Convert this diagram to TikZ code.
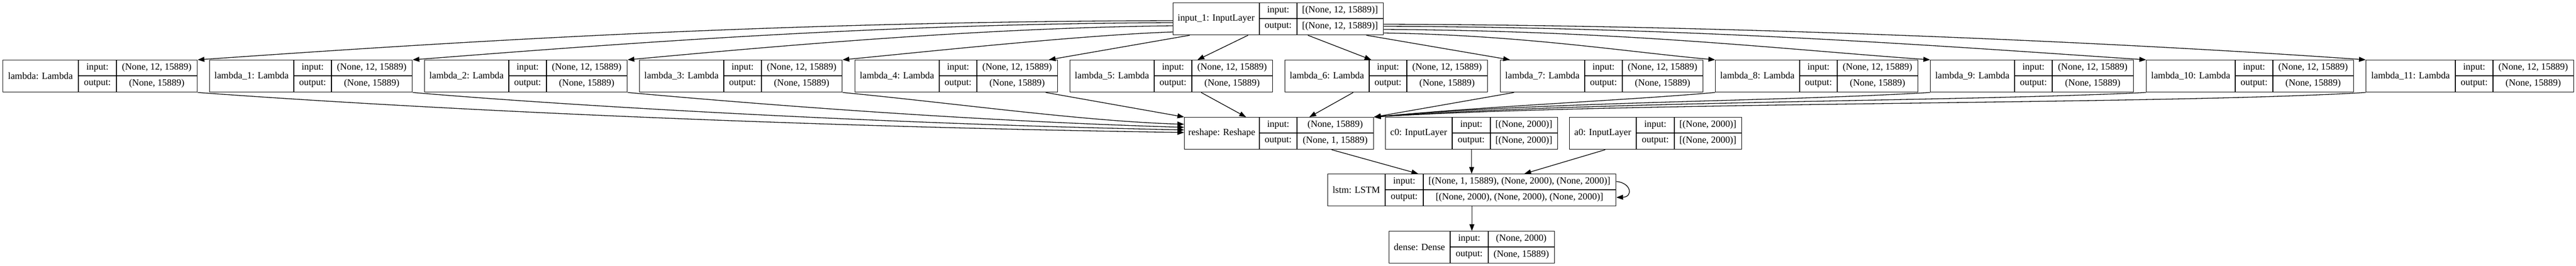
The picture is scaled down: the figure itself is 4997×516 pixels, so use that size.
\documentclass[tikz,border=0pt]{standalone}
\usepackage{fontspec}
\setmainfont{Liberation Serif}
\usetikzlibrary{arrows.meta,calc}
\tikzset{
  box/.style={draw=black, line width=1.4pt, inner sep=0pt, minimum height=62, anchor=north west},
  cell/.style={draw=black, line width=1.4pt},
  txt/.style={inner sep=0pt, font=\fontsize{18.4}{22}\selectfont},
  arr/.style={draw=black, line width=1.3pt, -{Triangle[length=13pt,width=9.5pt]}},
}
\newcommand{\klayer}[9]{%
  \node[box, minimum width={#5-#2}] (#1) at (#2,#6) {};
  \draw[cell] (#3,#6) -- ({#3},{#6+62}) (#4,#6) -- ({#4},{#6+62}) ({#3},{#6+31}) -- ({#5},{#6+31});
  \node[txt] (#1-name) at ({(#2+#3)/2},{#6+31}) {#7};
  \node[txt] (#1-inl) at ({(#3+#4)/2},{#6+15.5}) {input:};
  \node[txt] (#1-outl) at ({(#3+#4)/2},{#6+46.5}) {output:};
  \node[txt] (#1-in) at ({(#4+#5)/2},{#6+15.5}) {#8};
  \node[txt] (#1-out) at ({(#4+#5)/2},{#6+46.5}) {#9};
}
\begin{document}
\begin{tikzpicture}[x=1pt, y=-1pt]
\useasboundingbox (0,0) rectangle (4997,516);
\fill[white] (0,0) rectangle (4997,516);

% row 1
\klayer{in1}{2275}{2443}{2516}{2683}{5}{input\_1: InputLayer}{[(None, 12, 15889)]}{[(None, 12, 15889)]}

% row 2
\klayer{lam0}{5}{152}{226}{382}{116}{lambda: Lambda}{(None, 12, 15889)}{(None, 15889)}
\klayer{lam1}{406}{570}{643}{799}{116}{lambda\_1: Lambda}{(None, 12, 15889)}{(None, 15889)}
\klayer{lam2}{823}{987}{1060}{1216}{116}{lambda\_2: Lambda}{(None, 12, 15889)}{(None, 15889)}
\klayer{lam3}{1240}{1404}{1477}{1633}{116}{lambda\_3: Lambda}{(None, 12, 15889)}{(None, 15889)}
\klayer{lam4}{1658}{1822}{1895}{2051}{116}{lambda\_4: Lambda}{(None, 12, 15889)}{(None, 15889)}
\klayer{lam5}{2075}{2239}{2312}{2468}{116}{lambda\_5: Lambda}{(None, 12, 15889)}{(None, 15889)}
\klayer{lam6}{2492}{2656}{2729}{2885}{116}{lambda\_6: Lambda}{(None, 12, 15889)}{(None, 15889)}
\klayer{lam7}{2910}{3074}{3147}{3303}{116}{lambda\_7: Lambda}{(None, 12, 15889)}{(None, 15889)}
\klayer{lam8}{3327}{3491}{3564}{3720}{116}{lambda\_8: Lambda}{(None, 12, 15889)}{(None, 15889)}
\klayer{lam9}{3744}{3908}{3981}{4138}{116}{lambda\_9: Lambda}{(None, 12, 15889)}{(None, 15889)}
\klayer{lam10}{4163}{4336}{4409}{4565}{116}{lambda\_10: Lambda}{(None, 12, 15889)}{(None, 15889)}
\klayer{lam11}{4589}{4763}{4836}{4992}{116}{lambda\_11: Lambda}{(None, 12, 15889)}{(None, 15889)}

% row 3
\klayer{reshape}{2297}{2443}{2516}{2664}{227}{reshape: Reshape}{(None, 15889)}{(None, 1, 15889)}
\klayer{c0}{2687}{2817}{2891}{3021}{227}{c0: InputLayer}{[(None, 2000)]}{[(None, 2000)]}
\klayer{a0}{3044}{3174}{3248}{3378}{227}{a0: InputLayer}{[(None, 2000)]}{[(None, 2000)]}

% row 4
\klayer{lstm}{2575}{2687}{2761}{3134}{337}{lstm: LSTM}{[(None, 1, 15889), (None, 2000), (None, 2000)]}{[(None, 2000), (None, 2000), (None, 2000)]}

% row 5
\klayer{dense}{2694}{2813}{2887}{3015}{448}{dense: Dense}{(None, 2000)}{(None, 15889)}

% input_1 -> lambdas
\draw[arr] ($(in1.north west)+(0,35)$) .. controls (1500,42) and (900,80) .. (lam0.north east);
\draw[arr] ($(in1.north west)+(0,39)$) .. controls (1700,46) and (1200,85) .. (lam1.north east);
\draw[arr] ($(in1.north west)+(0,45)$) .. controls (1900,54) and (1500,90) .. (lam2.north east);
\draw[arr] ($(in1.north west)+(0,57)$) .. controls (2100,68) and (1800,100) .. (lam3.north east);
\draw[arr] ($(in1.south west)+(33,0)$) -- ($(lam4.north east)+(-18,0)$);
\draw[arr] ($(in1.south west)+(146,0)$) -- ($(lam5.north west)+(248,0)$);
\draw[arr] ($(in1.south west)+(262,0)$) -- ($(lam6.north west)+(168,0)$);
\draw[arr] ($(in1.south east)+(-34,0)$) -- ($(lam7.north west)+(19,0)$);
\draw[arr] ($(in1.north east)+(0,59)$) .. controls (2950,68) and (3150,100) .. (lam8.north west);
\draw[arr] ($(in1.north east)+(0,52)$) .. controls (3150,60) and (3450,95) .. (lam9.north west);
\draw[arr] ($(in1.north east)+(0,46)$) .. controls (3300,53) and (3800,92) .. (lam10.north west);
\draw[arr] ($(in1.north east)+(0,42)$) .. controls (3400,49) and (4150,85) .. (lam11.north west);

% lambdas -> reshape
\draw[arr] (lam0.south east) .. controls (800,210) and (1500,245) .. ($(reshape.north west)+(0,30)$);
\draw[arr] (lam1.south east) .. controls (1100,205) and (1700,240) .. ($(reshape.north west)+(0,25)$);
\draw[arr] (lam2.south east) .. controls (1500,205) and (1900,235) .. ($(reshape.north west)+(0,20)$);
\draw[arr] (lam3.south east) .. controls (1850,200) and (2100,235) .. ($(reshape.north west)+(0,14)$);
\draw[arr] ($(lam4.south east)+(-24,0)$) -- (reshape.north west);
\draw[arr] ($(lam5.south west)+(255,0)$) -- ($(reshape.north west)+(120,0)$);
\draw[arr] ($(lam6.south west)+(133,0)$) -- ($(reshape.north west)+(243,0)$);
\draw[arr] ($(lam7.south west)+(27,0)$) -- (reshape.north east);
\draw[arr] (lam8.south west) .. controls (3150,195) and (2900,205) .. (reshape.north east);
\draw[arr] (lam9.south west) .. controls (3450,197) and (3000,197) .. (reshape.north east);
\draw[arr] (lam10.south west) .. controls (3800,197) and (3100,196) .. (reshape.north east);
\draw[arr] (lam11.south west) .. controls (4200,203) and (3150,197) .. (reshape.north east);

% row 3 -> lstm
\draw[arr] ($(reshape.south west)+(286,0)$) -- ($(lstm.north west)+(176,0)$);
\draw[arr] (c0.south) -- (c0.south |- lstm.north);
\draw[arr] ($(a0.south west)+(70,0)$) -- ($(lstm.north west)+(382,0)$);
\draw[arr] ($(lstm.north east)+(0,15)$) .. controls (3165,355) and (3168,382) .. ($(lstm.north east)+(0,46)$);

% lstm -> dense
\draw[arr] (lstm.south) -- (dense.north);
\end{tikzpicture}
\end{document}
